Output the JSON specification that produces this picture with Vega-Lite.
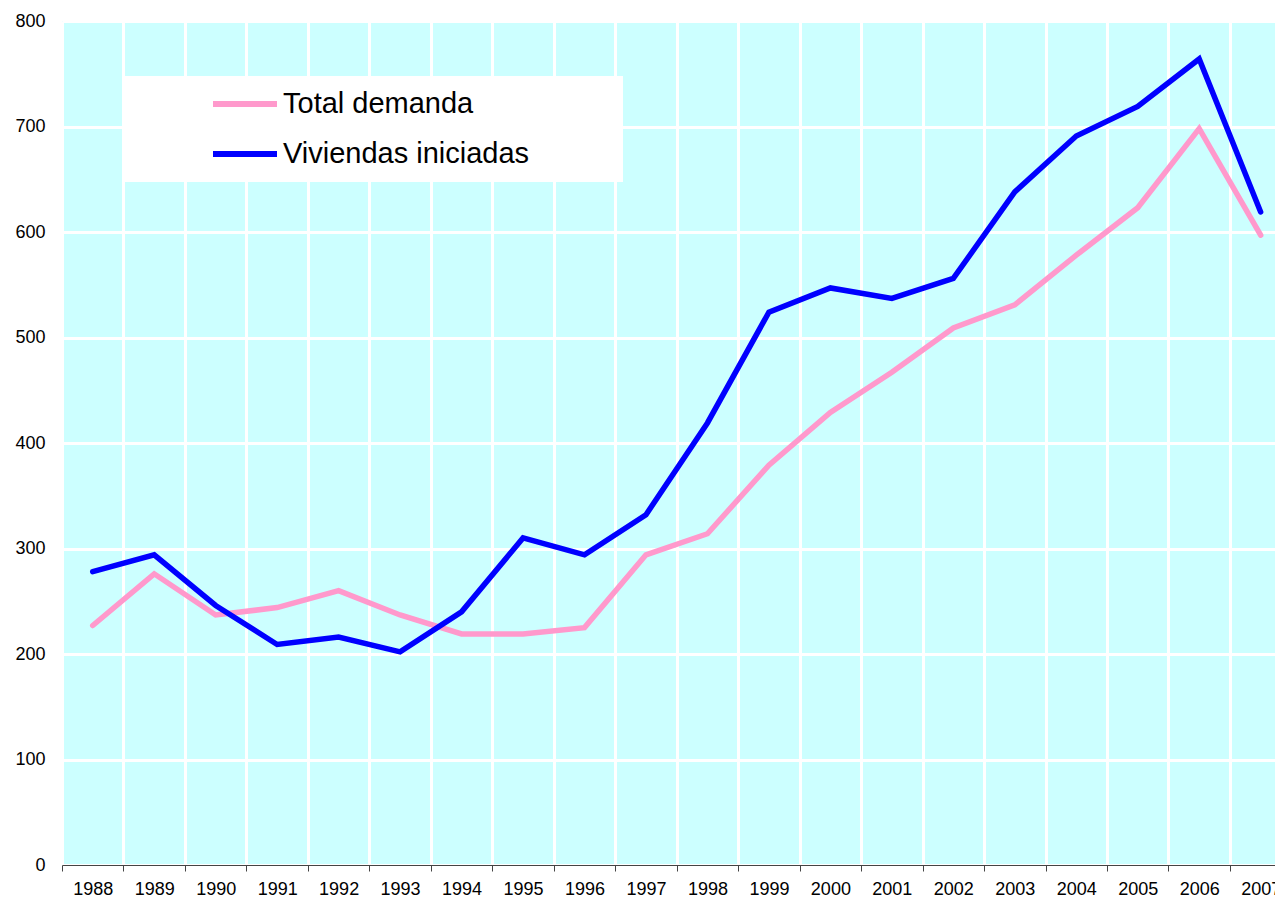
{
  "$schema": "https://vega.github.io/schema/vega-lite/v6.json",
  "autosize": {"type": "none"},
  "width": 1213,
  "height": 844,
  "padding": {"left": 62, "top": 21, "right": 0, "bottom": 40},
  "background": "white",
  "view": {"fill": "#CCFFFF", "stroke": null},
  "config": {"font": "Liberation Sans"},
  "data": {
    "values": [
      {"year": "1988", "serie": "Total demanda", "valor": 227},
      {"year": "1989", "serie": "Total demanda", "valor": 276},
      {"year": "1990", "serie": "Total demanda", "valor": 237},
      {"year": "1991", "serie": "Total demanda", "valor": 244},
      {"year": "1992", "serie": "Total demanda", "valor": 260},
      {"year": "1993", "serie": "Total demanda", "valor": 237},
      {"year": "1994", "serie": "Total demanda", "valor": 219},
      {"year": "1995", "serie": "Total demanda", "valor": 219},
      {"year": "1996", "serie": "Total demanda", "valor": 225},
      {"year": "1997", "serie": "Total demanda", "valor": 294},
      {"year": "1998", "serie": "Total demanda", "valor": 314},
      {"year": "1999", "serie": "Total demanda", "valor": 379},
      {"year": "2000", "serie": "Total demanda", "valor": 429},
      {"year": "2001", "serie": "Total demanda", "valor": 467},
      {"year": "2002", "serie": "Total demanda", "valor": 509},
      {"year": "2003", "serie": "Total demanda", "valor": 531},
      {"year": "2004", "serie": "Total demanda", "valor": 578},
      {"year": "2005", "serie": "Total demanda", "valor": 623},
      {"year": "2006", "serie": "Total demanda", "valor": 698},
      {"year": "2007", "serie": "Total demanda", "valor": 597},
      {"year": "1988", "serie": "Viviendas iniciadas", "valor": 278},
      {"year": "1989", "serie": "Viviendas iniciadas", "valor": 294},
      {"year": "1990", "serie": "Viviendas iniciadas", "valor": 246},
      {"year": "1991", "serie": "Viviendas iniciadas", "valor": 209},
      {"year": "1992", "serie": "Viviendas iniciadas", "valor": 216},
      {"year": "1993", "serie": "Viviendas iniciadas", "valor": 202},
      {"year": "1994", "serie": "Viviendas iniciadas", "valor": 240},
      {"year": "1995", "serie": "Viviendas iniciadas", "valor": 310},
      {"year": "1996", "serie": "Viviendas iniciadas", "valor": 294},
      {"year": "1997", "serie": "Viviendas iniciadas", "valor": 332},
      {"year": "1998", "serie": "Viviendas iniciadas", "valor": 419},
      {"year": "1999", "serie": "Viviendas iniciadas", "valor": 524},
      {"year": "2000", "serie": "Viviendas iniciadas", "valor": 547},
      {"year": "2001", "serie": "Viviendas iniciadas", "valor": 537},
      {"year": "2002", "serie": "Viviendas iniciadas", "valor": 556},
      {"year": "2003", "serie": "Viviendas iniciadas", "valor": 638},
      {"year": "2004", "serie": "Viviendas iniciadas", "valor": 691},
      {"year": "2005", "serie": "Viviendas iniciadas", "valor": 719},
      {"year": "2006", "serie": "Viviendas iniciadas", "valor": 764},
      {"year": "2007", "serie": "Viviendas iniciadas", "valor": 619}
    ]
  },
  "mark": {"type": "line", "strokeWidth": 5.5, "strokeJoin": "miter", "strokeCap": "round"},
  "encoding": {
    "x": {
      "field": "year",
      "type": "ordinal",
      "scale": {"type": "band", "paddingInner": 0, "paddingOuter": 0, "range": [0, 1229.4]},
      "axis": {
        "title": null,
        "labelAngle": 0,
        "tickBand": "extent",
        "grid": true,
        "gridColor": "white",
        "gridWidth": 3,
        "gridOpacity": 1,
        "domainColor": "#444444",
        "tickColor": "#444444",
        "tickSize": 6,
        "labelFontSize": 18,
        "labelColor": "black",
        "labelPadding": 9
      }
    },
    "y": {
      "field": "valor",
      "type": "quantitative",
      "scale": {"domain": [0, 800], "nice": false},
      "axis": {
        "title": null,
        "values": [0, 100, 200, 300, 400, 500, 600, 700, 800],
        "grid": true,
        "gridColor": "white",
        "gridWidth": 3,
        "gridOpacity": 1,
        "domain": false,
        "ticks": false,
        "tickSize": 0,
        "labelFontSize": 18,
        "labelColor": "black",
        "labelPadding": 17
      }
    },
    "color": {
      "field": "serie",
      "type": "nominal",
      "scale": {"domain": ["Total demanda", "Viviendas iniciadas"], "range": ["#FF99CC", "#0000FF"]},
      "legend": {
        "title": ".",
        "titleOrient": "right",
        "titleColor": "white",
        "titleFontSize": 2,
        "titlePadding": 85,
        "orient": "none",
        "legendX": 61,
        "legendY": 55,
        "fillColor": "white",
        "strokeColor": null,
        "padding": 8,
        "symbolType": "stroke",
        "symbolSize": 4096,
        "symbolStrokeWidth": 6,
        "symbolOffset": 79,
        "clipHeight": 40,
        "rowPadding": 10,
        "labelFontSize": 29,
        "labelColor": "black",
        "labelOffset": 3,
        "labelLimit": 600
      }
    }
  }
}
